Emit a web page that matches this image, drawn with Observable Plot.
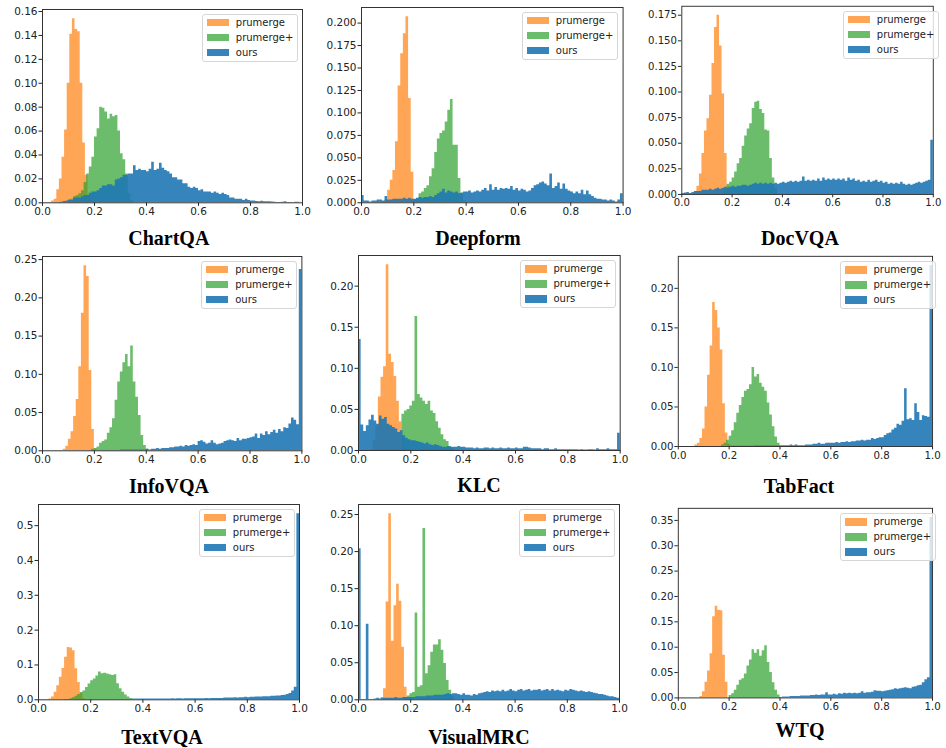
<!DOCTYPE html>
<html>
<head>
<meta charset="utf-8">
<script src="https://cdn.jsdelivr.net/npm/d3@7"></script>
<script src="https://cdn.jsdelivr.net/npm/@observablehq/plot@0.6"></script>
<style>
  html, body { margin: 0; padding: 0; background: #fff; overflow: hidden; }
  #fig { position: relative; width: 946px; height: 748px; overflow: hidden; background: #fff; }
  .panel { position: absolute; }
  .panel svg { overflow: visible; }
  .title { position: absolute; width: 200px; text-align: center; font: bold 20px "Liberation Serif", "Times New Roman", serif; line-height: 20px; color: #000; white-space: nowrap; }
  .legend { position: absolute; width: 96px; height: 48px; box-sizing: border-box; border: 1px solid #d6d6d6; border-radius: 3px; background: rgba(255,255,255,0.8); font: 10px "DejaVu Sans", sans-serif; color: #222; }
  .legend .sw { position: absolute; left: 4px; width: 22px; height: 7.5px; }
  .legend .lb { position: absolute; left: 33px; line-height: 12px; white-space: nowrap; }
</style>
</head>
<body>
<div id="fig"></div>
<script>
// ---------------- data ----------------
const seriesNames = ["prumerge", "prumerge+", "ours"];
const binWidth = 0.01;
const xTicks = [0, 0.2, 0.4, 0.6, 0.8, 1.0];
const datasets = ["ChartQA", "Deepform", "DocVQA", "InfoVQA", "KLC", "TabFact", "TextVQA", "VisualMRC", "WTQ"];

// ChartQA
const chartqaStarts = [0.035, 0.10, 0];
const chartqaPrumerge = [0.0014, 0.003, 0.011, 0.02, 0.038, 0.061, 0.10, 0.141, 0.154, 0.145, 0.143, 0.10, 0.05, 0.023, 0.006];
const chartqaPrumergePlus = [0.0025, 0.003, 0.005, 0.006, 0.0075, 0.01, 0.017, 0.024, 0.03, 0.038, 0.055, 0.062, 0.08, 0.079, 0.076, 0.07, 0.074, 0.072, 0.073, 0.06, 0.041, 0.036, 0.024, 0.0075, 0.002];
const chartqaOurs = [
  0, 0, 0, 0, 0, 0, 0.0003, 0.0005, 0.001, 0.0015,
  0.002, 0.002, 0.004, 0.004, 0.004, 0.005, 0.006, 0.006, 0.008, 0.009,
  0.009, 0.010, 0.012, 0.014, 0.014, 0.015, 0.015, 0.014, 0.019, 0.020,
  0.021, 0.023, 0.023, 0.024, 0.024, 0.031, 0.027, 0.028, 0.027, 0.027,
  0.026, 0.028, 0.034, 0.027, 0.028, 0.033, 0.029, 0.027, 0.026, 0.024,
  0.021, 0.021, 0.019, 0.019, 0.016, 0.016, 0.013, 0.012, 0.013, 0.012,
  0.010, 0.011, 0.009, 0.009, 0.009, 0.008, 0.009, 0.008, 0.007, 0.008,
  0.007, 0.006, 0.004, 0.004, 0.003, 0.003, 0.003, 0.002, 0.003, 0.002,
  0.0014, 0.0015, 0.001, 0.0008, 0.0012, 0.0008, 0.0008, 0.0008, 0.0006, 0.0004,
  0.0003, 0.0003, 0.0005, 0.0008, 0.0003, 0.0002, 0.0001, 0.0004, 0.0004, 0];
const chartqaYTicks = [0, 0.02, 0.04, 0.06, 0.08, 0.10, 0.12, 0.14, 0.16];

// Deepform
const deepformStarts = [0.08, 0.21, 0];
const deepformPrumerge = [0.0015, 0.003, 0.014, 0.025, 0.036, 0.068, 0.13, 0.166, 0.188, 0.207, 0.116, 0.034, 0.003];
const deepformPrumergePlus = [0.004, 0.01, 0.012, 0.016, 0.019, 0.029, 0.038, 0.056, 0.071, 0.077, 0.08, 0.09, 0.103, 0.115, 0.064, 0.064, 0.027, 0.01, 0.002];
const deepformOurs = [
  0.008, 0.002, 0.002, 0.001, 0.002, 0.002, 0.003, 0.003, 0.002, 0.007,
  0.003, 0.003, 0.004, 0.004, 0.004, 0.004, 0.005, 0.004, 0.005, 0.004,
  0.004, 0.005, 0.006, 0.005, 0.006, 0.006, 0.007, 0.006, 0.008, 0.010,
  0.012, 0.015, 0.011, 0.013, 0.012, 0.011, 0.012, 0.010, 0.011, 0.012,
  0.012, 0.013, 0.011, 0.012, 0.013, 0.012, 0.014, 0.016, 0.013, 0.020,
  0.014, 0.017, 0.014, 0.016, 0.015, 0.016, 0.015, 0.018, 0.014, 0.016,
  0.013, 0.015, 0.014, 0.012, 0.013, 0.016, 0.019, 0.020, 0.022, 0.023,
  0.021, 0.019, 0.032, 0.016, 0.018, 0.022, 0.015, 0.021, 0.015, 0.013,
  0.012, 0.010, 0.012, 0.010, 0.014, 0.009, 0.013, 0.009, 0.007, 0.005,
  0.004, 0.004, 0.003, 0.003, 0.002, 0.003, 0.002, 0.001, 0.003, 0.010];
const deepformYTicks = [0, 0.025, 0.05, 0.075, 0.1, 0.125, 0.15, 0.175, 0.2];

// DocVQA
const docvqaStarts = [0.05, 0.17, 0];
const docvqaPrumerge = [0.003, 0.008, 0.02, 0.04, 0.062, 0.074, 0.097, 0.128, 0.163, 0.175, 0.145, 0.098, 0.04, 0.008];
const docvqaPrumergePlus = [0.004, 0.01, 0.012, 0.016, 0.022, 0.03, 0.035, 0.047, 0.057, 0.064, 0.069, 0.084, 0.09, 0.091, 0.083, 0.079, 0.063, 0.062, 0.035, 0.016, 0.006];
const docvqaOurs = [
  0.001, 0.0015, 0.002, 0.001, 0.002, 0.003, 0.003, 0.003, 0.004, 0.004,
  0.004, 0.005, 0.004, 0.005, 0.006, 0.005, 0.006, 0.007, 0.006, 0.007,
  0.008, 0.007, 0.008, 0.008, 0.009, 0.009, 0.008, 0.009, 0.010, 0.011,
  0.010, 0.011, 0.010, 0.011, 0.010, 0.011, 0.010, 0.011, 0.010, 0.011,
  0.012, 0.011, 0.012, 0.013, 0.012, 0.013, 0.012, 0.013, 0.017, 0.013,
  0.014, 0.013, 0.014, 0.013, 0.015, 0.013, 0.016, 0.014, 0.015, 0.014,
  0.015, 0.014, 0.015, 0.014, 0.015, 0.013, 0.016, 0.014, 0.015, 0.013,
  0.014, 0.012, 0.013, 0.012, 0.014, 0.012, 0.013, 0.014, 0.012, 0.013,
  0.011, 0.012, 0.010, 0.011, 0.010, 0.011, 0.010, 0.012, 0.010, 0.009,
  0.010, 0.009, 0.010, 0.011, 0.012, 0.011, 0.012, 0.013, 0.014, 0.053];
const docvqaYTicks = [0, 0.025, 0.05, 0.075, 0.1, 0.125, 0.15, 0.175];

// InfoVQA
const infovqaStarts = [0.08, 0.19, 0];
const infovqaPrumerge = [0.002, 0.006, 0.015, 0.025, 0.045, 0.067, 0.11, 0.18, 0.242, 0.228, 0.105, 0.028, 0.002];
const infovqaPrumergePlus = [0.002, 0.003, 0.005, 0.01, 0.012, 0.014, 0.023, 0.03, 0.042, 0.066, 0.09, 0.103, 0.115, 0.126, 0.11, 0.137, 0.09, 0.07, 0.046, 0.02, 0.007, 0.002];
const infovqaOurs = [
  0, 0, 0, 0, 0, 0, 0, 0, 0, 0,
  0, 0, 0, 0, 0, 0, 0, 0, 0.0003, 0.0003,
  0.0005, 0.0005, 0.0005, 0.0005, 0.0005, 0.0005, 0.0005, 0.0005, 0.0005, 0.0005,
  0.001, 0.001, 0.001, 0.001, 0.001, 0.001, 0.001, 0.001, 0.001, 0.001,
  0.002, 0.001, 0.002, 0.002, 0.003, 0.002, 0.003, 0.003, 0.003, 0.004,
  0.004, 0.005, 0.005, 0.006, 0.005, 0.007, 0.006, 0.007, 0.008, 0.007,
  0.012, 0.013, 0.011, 0.009, 0.010, 0.013, 0.010, 0.008, 0.009, 0.010,
  0.012, 0.013, 0.014, 0.013, 0.012, 0.016, 0.013, 0.015, 0.015, 0.016,
  0.017, 0.018, 0.022, 0.016, 0.022, 0.020, 0.025, 0.021, 0.024, 0.027,
  0.023, 0.028, 0.025, 0.030, 0.029, 0.035, 0.043, 0.040, 0.034, 0.237];
const infovqaYTicks = [0, 0.05, 0.10, 0.15, 0.20, 0.25];

// KLC
const klcStarts = [0.056, 0.166, 0];
const klcPrumerge = [0.012, 0.03, 0.065, 0.089, 0.102, 0.226, 0.117, 0.107, 0.09, 0.06, 0.035, 0.015, 0.005];
const klcPrumergePlus = [0.044, 0.048, 0.05, 0.054, 0.06, 0.163, 0.068, 0.064, 0.06, 0.056, 0.06, 0.048, 0.045, 0.035, 0.027, 0.019, 0.013, 0.011, 0.005, 0.002];
const klcOurs = [
  0.135, 0.031, 0.023, 0.030, 0.037, 0.043, 0.036, 0.032, 0.042, 0.038,
  0.040, 0.032, 0.030, 0.028, 0.026, 0.022, 0.024, 0.018, 0.015, 0.013,
  0.012, 0.012, 0.011, 0.010, 0.009, 0.008, 0.009, 0.007, 0.006, 0.007,
  0.006, 0.005, 0.004, 0.004, 0.005, 0.004, 0.004, 0.004, 0.005, 0.004,
  0.004, 0.003, 0.003, 0.003, 0.002, 0.003, 0.002, 0.002, 0.003, 0.003,
  0.002, 0.003, 0.002, 0.002, 0.003, 0.002, 0.002, 0.003, 0.002, 0.002,
  0.003, 0.002, 0.002, 0.004, 0.004, 0.003, 0.002, 0.002, 0.002, 0.002,
  0.001, 0.002, 0.002, 0.001, 0.001, 0.002, 0.001, 0.001, 0.001, 0.001,
  0.001, 0.001, 0.001, 0.001, 0.0005, 0.001, 0.0005, 0.0005, 0.001, 0.001,
  0.0005, 0.002, 0.001, 0.001, 0.001, 0.002, 0.001, 0.001, 0.001, 0.021];
const klcYTicks = [0, 0.05, 0.10, 0.15, 0.20];

// TabFact
const tabfactStarts = [0.065, 0.17, 0];
const tabfactPrumerge = [0.002, 0.004, 0.01, 0.022, 0.05, 0.09, 0.127, 0.182, 0.172, 0.15, 0.122, 0.054, 0.017, 0.003];
const tabfactPrumergePlus = [0.002, 0.004, 0.008, 0.013, 0.02, 0.03, 0.042, 0.052, 0.062, 0.07, 0.072, 0.078, 0.10, 0.088, 0.091, 0.08, 0.075, 0.07, 0.055, 0.04, 0.025, 0.012, 0.004];
const tabfactOurs = [
  0, 0, 0, 0, 0, 0, 0, 0, 0, 0,
  0, 0, 0, 0, 0, 0, 0, 0, 0, 0,
  0.0003, 0.0003, 0.0003, 0.0003, 0.0003, 0.0003, 0.0003, 0.0003, 0.0003, 0.0003,
  0.0005, 0.0005, 0.0005, 0.0005, 0.0005, 0.0005, 0.0005, 0.0005, 0.0005, 0.0005,
  0.001, 0.001, 0.001, 0.001, 0.002, 0.001, 0.002, 0.001, 0.001, 0.001,
  0.002, 0.002, 0.002, 0.003, 0.003, 0.004, 0.003, 0.003, 0.004, 0.004,
  0.004, 0.004, 0.005, 0.004, 0.005, 0.005, 0.006, 0.005, 0.006, 0.006,
  0.007, 0.007, 0.008, 0.007, 0.008, 0.008, 0.010, 0.009, 0.010, 0.011,
  0.011, 0.014, 0.016, 0.017, 0.021, 0.023, 0.028, 0.027, 0.032, 0.073,
  0.034, 0.035, 0.033, 0.054, 0.043, 0.033, 0.039, 0.038, 0.037, 0.229];
const tabfactYTicks = [0, 0.05, 0.10, 0.15, 0.20];

// TextVQA
const textvqaStarts = [0.04, 0.12, 0];
const textvqaPrumerge = [0.002, 0.008, 0.022, 0.04, 0.065, 0.09, 0.122, 0.15, 0.149, 0.141, 0.089, 0.05, 0.02, 0.003];
const textvqaPrumergePlus = [0.003, 0.006, 0.01, 0.015, 0.02, 0.025, 0.035, 0.045, 0.055, 0.06, 0.068, 0.08, 0.075, 0.076, 0.074, 0.072, 0.07, 0.072, 0.046, 0.032, 0.022, 0.014, 0.008, 0.004];
const textvqaOurs = [
  0, 0, 0, 0, 0, 0, 0, 0, 0, 0,
  0.0005, 0.0005, 0.0005, 0.0005, 0.0005, 0.0005, 0.0005, 0.0005, 0.0005, 0.0005,
  0.001, 0.001, 0.001, 0.001, 0.001, 0.001, 0.001, 0.001, 0.001, 0.001,
  0.001, 0.001, 0.001, 0.001, 0.001, 0.001, 0.002, 0.002, 0.002, 0.002,
  0.002, 0.002, 0.002, 0.002, 0.002, 0.002, 0.002, 0.002, 0.002, 0.002,
  0.002, 0.003, 0.002, 0.003, 0.003, 0.002, 0.003, 0.003, 0.003, 0.003,
  0.003, 0.003, 0.003, 0.003, 0.004, 0.003, 0.004, 0.004, 0.004, 0.004,
  0.004, 0.005, 0.005, 0.005, 0.005, 0.006, 0.005, 0.006, 0.006, 0.007,
  0.006, 0.007, 0.007, 0.008, 0.008, 0.008, 0.009, 0.009, 0.009, 0.010,
  0.010, 0.011, 0.011, 0.012, 0.013, 0.015, 0.018, 0.025, 0.036, 0.534];
const textvqaYTicks = [0, 0.1, 0.2, 0.3, 0.4, 0.5];

// VisualMRC
const visualmrcStarts = [0.086, 0.177, 0];
const visualmrcPrumerge = [0.003, 0.015, 0.132, 0.251, 0.079, 0.127, 0.156, 0.133, 0.071, 0.017, 0.003];
const visualmrcPrumergePlus = [0.003, 0.005, 0.008, 0.01, 0.117, 0.017, 0.019, 0.231, 0.035, 0.046, 0.064, 0.074, 0.074, 0.081, 0.067, 0.049, 0.026, 0.013, 0.004];
const visualmrcOurs = [
  0.204, 0, 0, 0.102, 0, 0, 0.001, 0.002, 0.001, 0.002,
  0.002, 0.002, 0.002, 0.002, 0.003, 0.002, 0.002, 0.003, 0.003, 0.003,
  0.003, 0.003, 0.004, 0.004, 0.004, 0.004, 0.005, 0.005, 0.005, 0.006,
  0.006, 0.006, 0.006, 0.007, 0.008, 0.007, 0.008, 0.008, 0.007, 0.006,
  0.008, 0.006, 0.006, 0.005, 0.007, 0.006, 0.008, 0.009, 0.010, 0.011,
  0.010, 0.012, 0.011, 0.012, 0.011, 0.013, 0.011, 0.012, 0.014, 0.012,
  0.011, 0.013, 0.014, 0.012, 0.013, 0.014, 0.012, 0.013, 0.013, 0.014,
  0.012, 0.013, 0.014, 0.012, 0.014, 0.012, 0.013, 0.012, 0.011, 0.013,
  0.012, 0.014, 0.013, 0.012, 0.011, 0.012, 0.011, 0.010, 0.011, 0.010,
  0.009, 0.008, 0.007, 0.007, 0.006, 0.005, 0.004, 0.004, 0.003, 0.002];
const visualmrcYTicks = [0, 0.05, 0.10, 0.15, 0.20, 0.25];

// WTQ
const wtqStarts = [0.085, 0.20, 0];
const wtqPrumerge = [0.003, 0.012, 0.031, 0.053, 0.087, 0.16, 0.181, 0.173, 0.172, 0.084, 0.031];
const wtqPrumergePlus = [0.005, 0.008, 0.015, 0.025, 0.035, 0.038, 0.047, 0.063, 0.075, 0.095, 0.088, 0.095, 0.082, 0.093, 0.103, 0.07, 0.05, 0.03, 0.015, 0.006];
const wtqOurs = [
  0, 0, 0, 0, 0, 0, 0, 0, 0, 0,
  0, 0, 0, 0, 0, 0, 0, 0, 0, 0,
  0.0003, 0.0003, 0.0003, 0.0003, 0.0003, 0.0003, 0.0003, 0.0003, 0.0003, 0.0003,
  0.0005, 0.0005, 0.0005, 0.0005, 0.0005, 0.0005, 0.0005, 0.0005, 0.0005, 0.0005,
  0.001, 0.002, 0.002, 0.002, 0.003, 0.003, 0.003, 0.003, 0.004, 0.004,
  0.004, 0.004, 0.005, 0.005, 0.006, 0.005, 0.006, 0.006, 0.010, 0.006,
  0.006, 0.007, 0.006, 0.008, 0.007, 0.009, 0.008, 0.009, 0.008, 0.009,
  0.008, 0.009, 0.012, 0.009, 0.010, 0.010, 0.011, 0.014, 0.013, 0.013,
  0.012, 0.013, 0.014, 0.015, 0.016, 0.018, 0.017, 0.018, 0.019, 0.020,
  0.019, 0.018, 0.021, 0.022, 0.024, 0.025, 0.030, 0.036, 0.040, 0.356];
const wtqYTicks = [0, 0.05, 0.10, 0.15, 0.20, 0.25, 0.30, 0.35];

// ---------------- assembly ----------------
const panelSeries = [
  [chartqaPrumerge, chartqaPrumergePlus, chartqaOurs],
  [deepformPrumerge, deepformPrumergePlus, deepformOurs],
  [docvqaPrumerge, docvqaPrumergePlus, docvqaOurs],
  [infovqaPrumerge, infovqaPrumergePlus, infovqaOurs],
  [klcPrumerge, klcPrumergePlus, klcOurs],
  [tabfactPrumerge, tabfactPrumergePlus, tabfactOurs],
  [textvqaPrumerge, textvqaPrumergePlus, textvqaOurs],
  [visualmrcPrumerge, visualmrcPrumergePlus, visualmrcOurs],
  [wtqPrumerge, wtqPrumergePlus, wtqOurs]
];
const panelStarts = [chartqaStarts, deepformStarts, docvqaStarts, infovqaStarts, klcStarts, tabfactStarts, textvqaStarts, visualmrcStarts, wtqStarts];
const panelYTicks = [chartqaYTicks, deepformYTicks, docvqaYTicks, infovqaYTicks, klcYTicks, tabfactYTicks, textvqaYTicks, visualmrcYTicks, wtqYTicks];

// ---------------- layout & style ----------------
const colors = ["#ff7f0e", "#2ca02c", "#1f77b4"];
const opacities = [0.7, 0.7, 0.9];
const yFormats = [".2f", ".3f", ".3f", ".2f", ".2f", ".2f", ".1f", ".2f", ".2f"];
const frames = [
  {left: 42.3, right: 302.3, top: 9, bottom: 202.3, tx: 168.8, tb: 245},
  {left: 360.7, right: 622.3, top: 7, bottom: 202.3, tx: 478, tb: 245},
  {left: 682.7, right: 943.3, top: 6, bottom: 201, tx: 800, tb: 245},
  {left: 42.3, right: 301.7, top: 256, bottom: 450.3, tx: 169, tb: 493},
  {left: 358.3, right: 620, top: 255.3, bottom: 450.3, tx: 479, tb: 492},
  {left: 679.3, right: 940, top: 256.3, bottom: 451.3, tx: 799, tb: 493},
  {left: 38.3, right: 299.3, top: 504, bottom: 699.3, tx: 162, tb: 744},
  {left: 358.3, right: 619.3, top: 504, bottom: 699.3, tx: 479, tb: 744},
  {left: 679.3, right: 940, top: 508.3, bottom: 702.7, tx: 800, tb: 737}
];
const ML = 48, MR = 14, MT = 6, MB = 24;

function binRows(values, start) {
  const rows = values.map((v, i) => ({x: start + i * binWidth, v}));
  rows.push({x: start + values.length * binWidth, v: values[values.length - 1]});
  return rows;
}

const fig = document.getElementById("fig");

datasets.forEach((name, p) => {
  const F = frames[p];
  const fw = F.right - F.left, fh = F.bottom - F.top;
  const series = panelSeries[p];
  const ymax = 1.05 * d3.max(series.flat());
  const svg = Plot.plot({
    width: fw + ML + MR,
    height: fh + MT + MB,
    marginLeft: ML, marginRight: MR, marginTop: MT, marginBottom: MB,
    style: {fontFamily: "'DejaVu Sans', sans-serif", fontSize: "10.5px", color: "#222", background: "transparent", overflow: "visible"},
    x: {domain: [0, 1], ticks: xTicks, tickFormat: d3.format(".1f"), tickSize: 3.5, tickPadding: 1.5, label: null},
    y: {domain: [0, ymax], ticks: panelYTicks[p], tickFormat: d3.format(yFormats[p]), tickSize: 3.5, tickPadding: 1.5, label: null},
    marks: [
      ...series.map((vals, k) => Plot.area(binRows(vals, panelStarts[p][k]), {
        x1: "x", y1: 0, y2: "v", curve: "step-after",
        fill: colors[k], fillOpacity: opacities[k]
      })),
      Plot.frame({stroke: "#333", strokeWidth: 1})
    ]
  });
  const div = document.createElement("div");
  div.className = "panel";
  div.style.left = (F.left - ML) + "px";
  div.style.top = (F.top - MT) + "px";
  div.appendChild(svg);
  fig.appendChild(div);

  // legend
  const lg = document.createElement("div");
  lg.className = "legend";
  lg.style.left = (F.right - 4.5 - 96) + "px";
  lg.style.top = (F.top + 4.5) + "px";
  seriesNames.forEach((s, k) => {
    const cy = 9 + 15 * k;
    const sw = document.createElement("div");
    sw.className = "sw";
    sw.style.top = (cy - 3.75 - 1) + "px";
    sw.style.background = colors[k];
    sw.style.opacity = opacities[k];
    lg.appendChild(sw);
    const lb = document.createElement("div");
    lb.className = "lb";
    lb.style.top = (cy - 6 - 1) + "px";
    lb.textContent = s;
    lg.appendChild(lb);
  });
  fig.appendChild(lg);

  // title
  const t = document.createElement("div");
  t.className = "title";
  t.style.left = (F.tx - 100) + "px";
  t.style.top = (F.tb - 16.75) + "px";
  t.textContent = name;
  fig.appendChild(t);
});
</script>
</body>
</html>
